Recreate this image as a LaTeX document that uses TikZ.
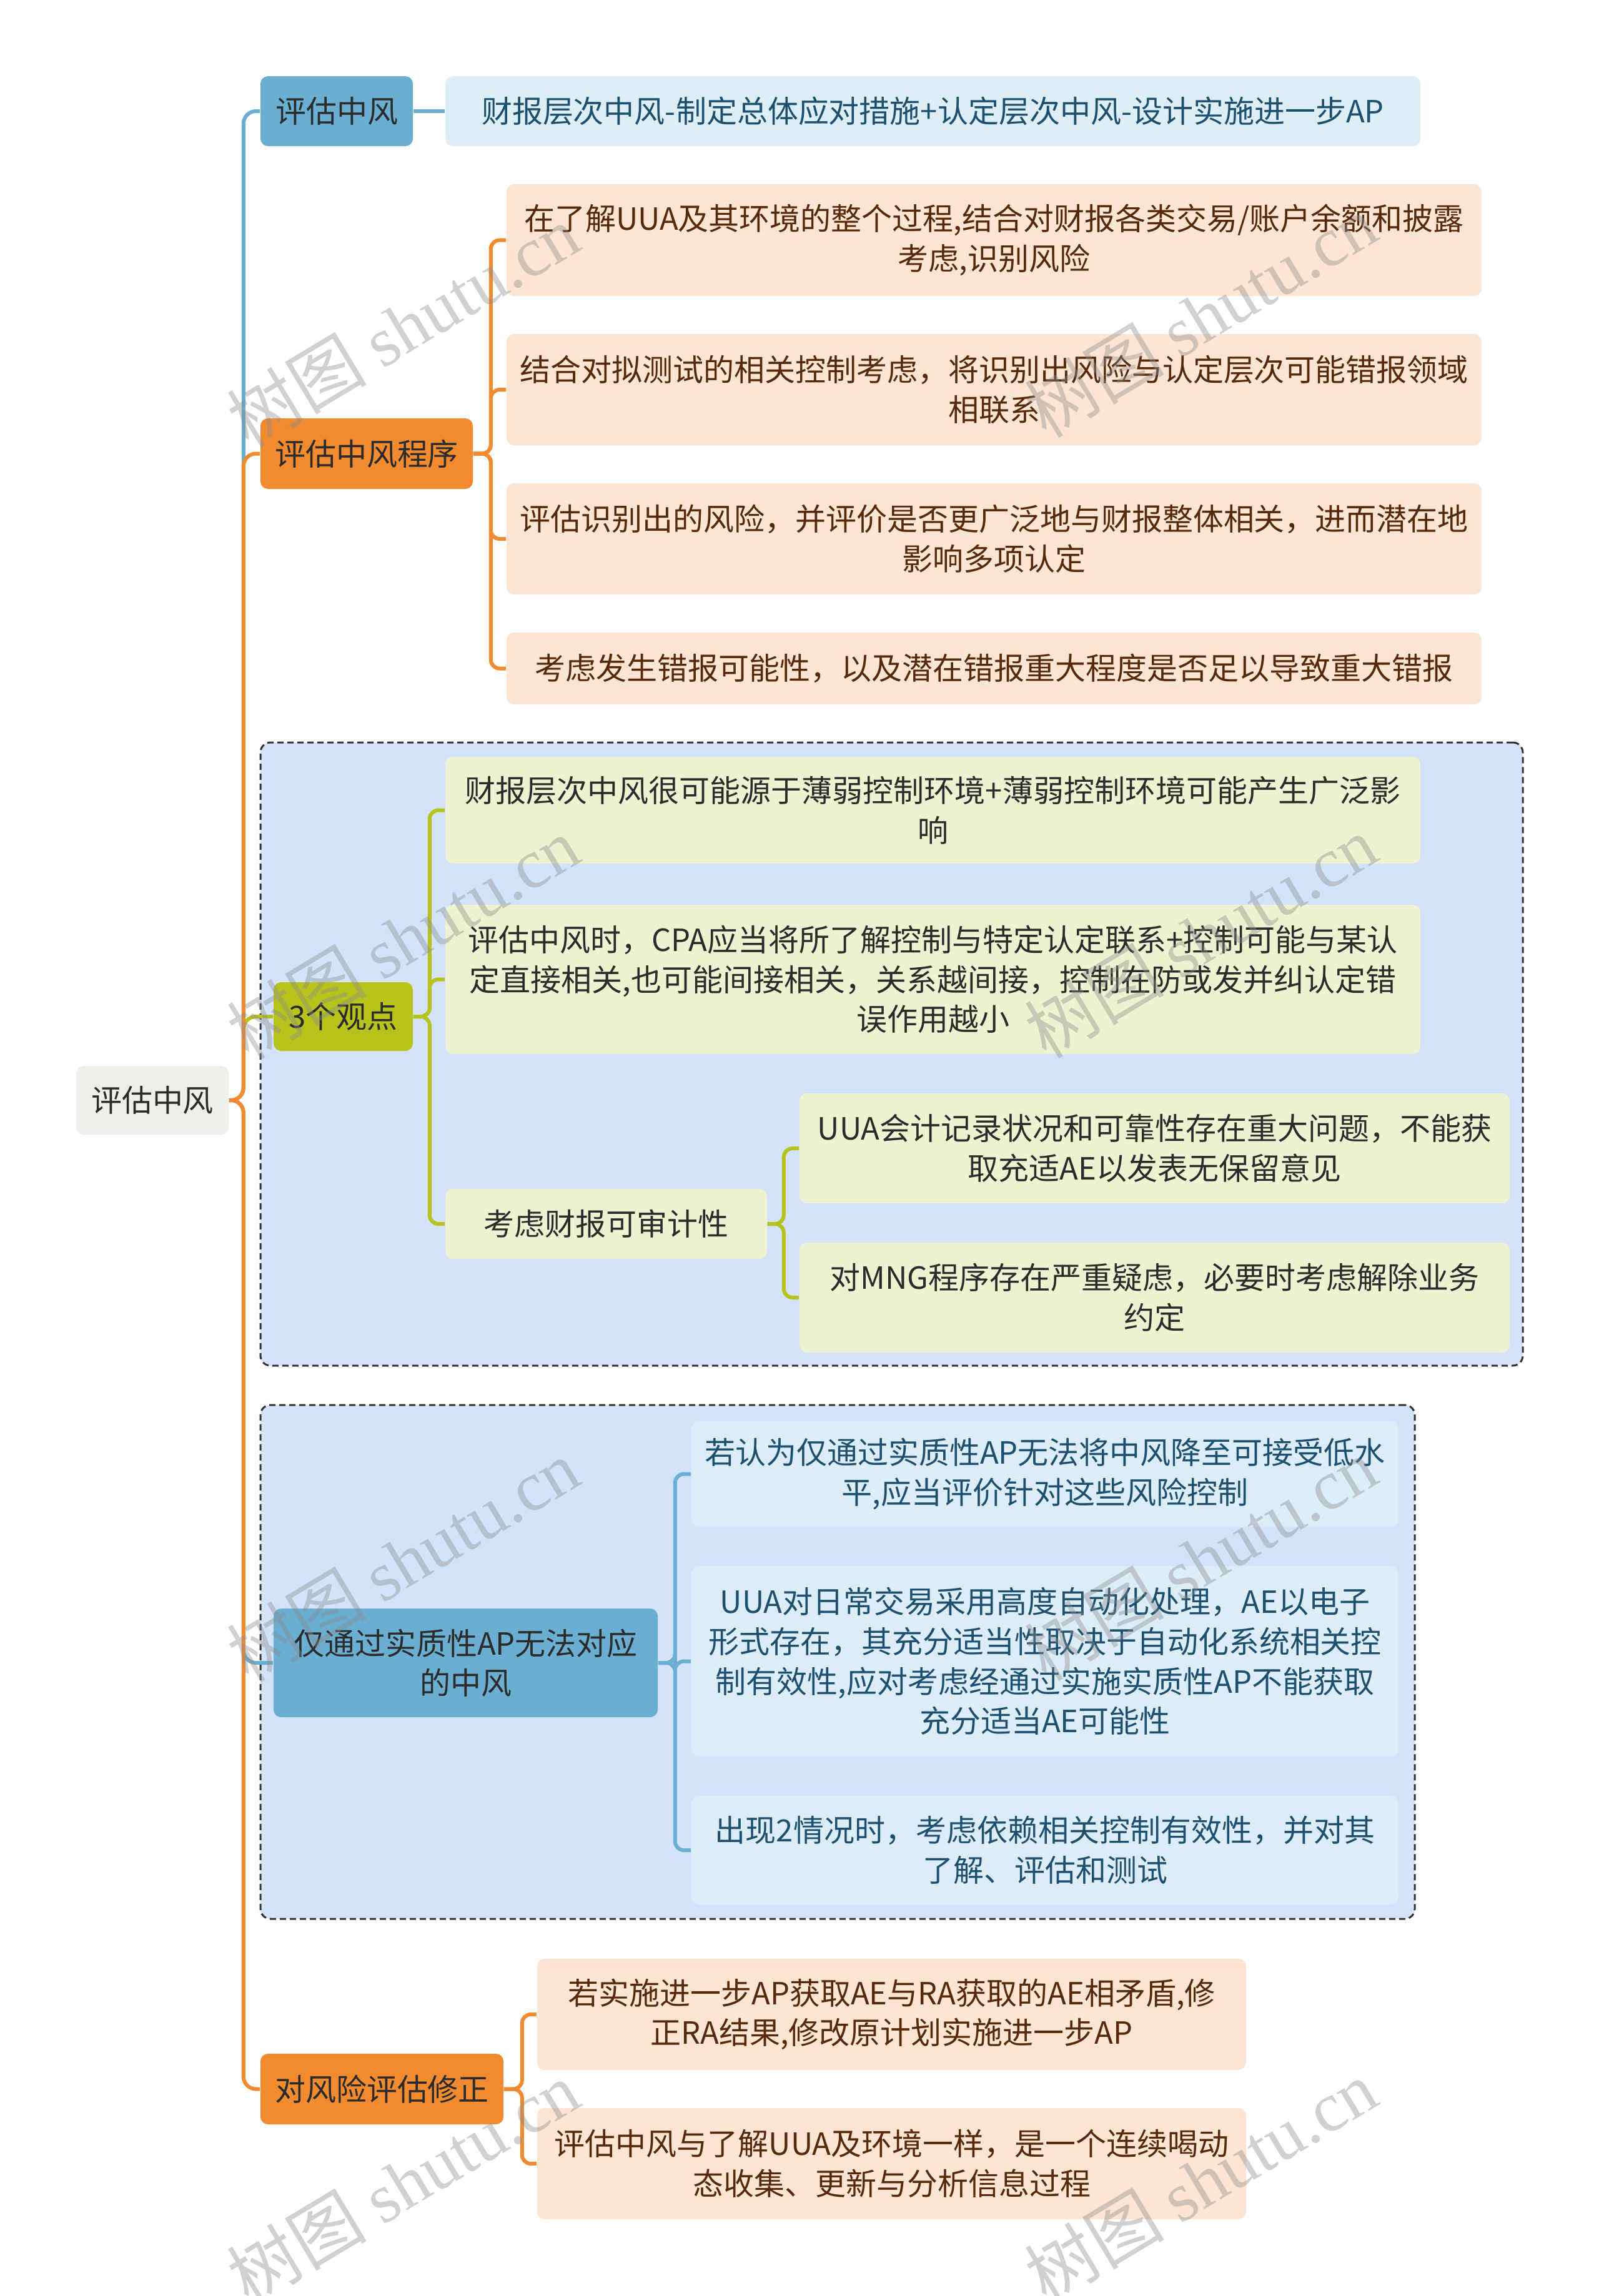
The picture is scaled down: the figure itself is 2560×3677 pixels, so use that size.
\documentclass[tikz,border=0pt]{standalone}
\usepackage{fontspec}
\setmainfont{Noto Sans CJK SC}
\newfontfamily\wmlatin{Liberation Serif}
\definecolor{bluebr}{HTML}{6AAED2}
\definecolor{orangebr}{HTML}{F28B2F}
\definecolor{greenbr}{HTML}{B7C31B}
\definecolor{rootfill}{HTML}{EFEFEA}
\definecolor{lightblue}{HTML}{DEEEF7}
\definecolor{peach}{HTML}{FCE5D3}
\definecolor{groupfill}{HTML}{D3E3FA}
\definecolor{ygfill}{HTML}{EFF2D1}
\definecolor{bluechild}{HTML}{DDEDF8}
\definecolor{bluetext}{HTML}{1D4F6F}
\definecolor{browntext}{HTML}{55290A}
\definecolor{darktext}{HTML}{2B2B2B}
\definecolor{wmgray}{HTML}{8C8C8C}
\tikzset{
  box/.style={rectangle, rounded corners=3pt, inner sep=0pt, align=center,
    font=\fontsize{12.25pt}{15.9pt}\selectfont},
  rootbox/.style={box, fill=rootfill, text=darktext},
  bluebox/.style={box, fill=bluebr, text=darktext},
  orangebox/.style={box, fill=orangebr, text=darktext},
  greenbox/.style={box, fill=greenbr, text=darktext},
  lbbox/.style={box, fill=lightblue, text=bluetext},
  peachbox/.style={box, fill=peach, text=browntext},
  ygbox/.style={box, fill=ygfill, text=darktext},
  bcbox/.style={box, fill=bluechild, text=bluetext},
  groupbox/.style={rectangle, rounded corners=4pt, fill=groupfill, draw=black!80,
    line width=0.75pt, dash pattern=on 2.5pt off 1.5pt, inner sep=0pt},
  trunk/.style={line width=1.5pt, rounded corners=5pt},
  conn/.style={line width=1.5pt, rounded corners=3.5pt},
  wm/.style={rotate=31, text=wmgray, opacity=0.4, font=\fontsize{28pt}{32pt}\selectfont, inner sep=0pt}
}
\begin{document}
\begin{tikzpicture}[x=0.25pt, y=-0.25pt]
\fill[white] (0,0) rectangle (2560,3677);
\useasboundingbox (0,0) rectangle (2560,3677);

% group backgrounds
\node[groupbox, minimum width=505.25pt, minimum height=249.5pt] (G1) at (1427.5,1688) {};
\node[groupbox, minimum width=462pt, minimum height=205.75pt] (G2) at (1341,2661.5) {};

% root
\node[rootbox, minimum width=61pt, minimum height=27.5pt] (R) at (244,1762) {评估中风};

% level 1
\node[bluebox, minimum width=61pt, minimum height=28pt] (B1) at (539,178) {评估中风};
\node[orangebox, minimum width=85pt, minimum height=28.25pt] (B2) at (587,726.5) {评估中风程序};
\node[greenbox, minimum width=55.75pt, minimum height=27.5pt] (B3) at (549.5,1628) {3个观点};
\node[bluebox, minimum width=153.75pt, minimum height=43.5pt] (B4) at (745.5,2663) {仅通过实质性AP无法对应\\的中风};
\node[orangebox, minimum width=97.25pt, minimum height=28.25pt] (B5) at (611.5,3345.5) {对风险评估修正};

% B1 child
\node[lbbox, minimum width=390.25pt, minimum height=28pt] (C11) at (1493.5,178) {财报层次中风-制定总体应对措施+认定层次中风-设计实施进一步AP};

% B2 children
\node[peachbox, minimum width=390.25pt, minimum height=44.75pt] (C21) at (1591.5,384.5) {在了解UUA及其环境的整个过程,结合对财报各类交易/账户余额和披露\\考虑,识别风险};
\node[peachbox, minimum width=390.25pt, minimum height=44.5pt] (C22) at (1591.5,624) {结合对拟测试的相关控制考虑，将识别出风险与认定层次可能错报领域\\相联系};
\node[peachbox, minimum width=390.25pt, minimum height=44.5pt] (C23) at (1591.5,863) {评估识别出的风险，并评价是否更广泛地与财报整体相关，进而潜在地\\影响多项认定};
\node[peachbox, minimum width=390.25pt, minimum height=28.75pt] (C24) at (1591.5,1070.5) {考虑发生错报可能性，以及潜在错报重大程度是否足以导致重大错报};

% B3 children
\node[ygbox, minimum width=390.25pt, minimum height=42.75pt] (C31) at (1493.5,1297.5) {财报层次中风很可能源于薄弱控制环境+薄弱控制环境可能产生广泛影\\响};
\node[ygbox, minimum width=390.25pt, minimum height=59.75pt] (C32) at (1493.5,1568.5) {评估中风时，CPA应当将所了解控制与特定认定联系+控制可能与某认\\定直接相关,也可能间接相关，关系越间接，控制在防或发并纠认定错\\误作用越小};
\node[ygbox, minimum width=128.75pt, minimum height=28pt] (C33) at (970.5,1960) {考虑财报可审计性};
\node[ygbox, minimum width=284.25pt, minimum height=44pt] (C331) at (1848.5,1839) {UUA会计记录状况和可靠性存在重大问题，不能获\\取充适AE以发表无保留意见};
\node[ygbox, minimum width=284.25pt, minimum height=44pt] (C332) at (1848.5,2078) {对MNG程序存在严重疑虑，必要时考虑解除业务\\约定};

% B4 children
\node[bcbox, minimum width=283pt, minimum height=42.25pt] (C41) at (1673,2360.5) {若认为仅通过实质性AP无法将中风降至可接受低水\\平,应当评价针对这些风险控制};
\node[bcbox, minimum width=283pt, minimum height=76.25pt] (C42) at (1673,2660.5) {UUA对日常交易采用高度自动化处理，AE以电子\\形式存在，其充分适当性取决于自动化系统相关控\\制有效性,应对考虑经通过实施实质性AP不能获取\\充分适当AE可能性};
\node[bcbox, minimum width=283pt, minimum height=43.5pt] (C43) at (1673,2963) {出现2情况时，考虑依赖相关控制有效性，并对其\\了解、评估和测试};

% B5 children
\node[peachbox, minimum width=283.75pt, minimum height=44.5pt] (C51) at (1427.5,3226) {若实施进一步AP获取AE与RA获取的AE相矛盾,修\\正RA结果,修改原计划实施进一步AP};
\node[peachbox, minimum width=283.75pt, minimum height=44.5pt] (C52) at (1427.5,3465) {评估中风与了解UUA及环境一样，是一个连续喝动\\态收集、更新与分析信息过程};

% trunk connectors (blue/green first, orange on top)
\draw[trunk, bluebr] (R.east) -- ++(23,0) |- (B1.west);
\draw[trunk, greenbr] (R.east) -- ++(23,0) |- (B3.west);
\draw[trunk, bluebr] (R.east) -- ++(23,0) |- (B4.west);
\draw[trunk, orangebr] (R.east) -- ++(23,0) |- (B2.west);
\draw[trunk, orangebr] (R.east) -- ++(23,0) |- (B5.west);

% B1 -> C11
\draw[conn, bluebr] (B1.east) -- (C11.west);

% B2 children
\foreach \c in {C21,C22,C23,C24}
  \draw[conn, orangebr] (B2.east) -- ++(28,0) |- (\c.west);
% B3 children
\foreach \c in {C31,C32,C33}
  \draw[conn, greenbr] (B3.east) -- ++(26,0) |- (\c.west);
% C33 children
\foreach \c in {C331,C332}
  \draw[conn, greenbr] (C33.east) -- ++(26,0) |- (\c.west);
% B4 children
\foreach \c in {C41,C42,C43}
  \draw[conn, bluebr] (B4.east) -- ++(27,0) |- (\c.west);
% B5 children
\foreach \c in {C51,C52}
  \draw[conn, orangebr] (B5.east) -- ++(29,0) |- (\c.west);

% watermarks
\node[wm] (w1) at (645,522) {树图 {\wmlatin shutu.cn}};
\node[wm] (w2) at (1922,506) {树图 {\wmlatin shutu.cn}};
\node[wm] (w3) at (645,1502) {树图 {\wmlatin shutu.cn}};
\node[wm] (w4) at (1922,1500) {树图 {\wmlatin shutu.cn}};
\node[wm] (w5) at (645,2499) {树图 {\wmlatin shutu.cn}};
\node[wm] (w6) at (1922,2497) {树图 {\wmlatin shutu.cn}};
\node[wm] (w7) at (645,3495) {树图 {\wmlatin shutu.cn}};
\node[wm] (w8) at (1922,3493) {树图 {\wmlatin shutu.cn}};
\end{tikzpicture}
\end{document}
